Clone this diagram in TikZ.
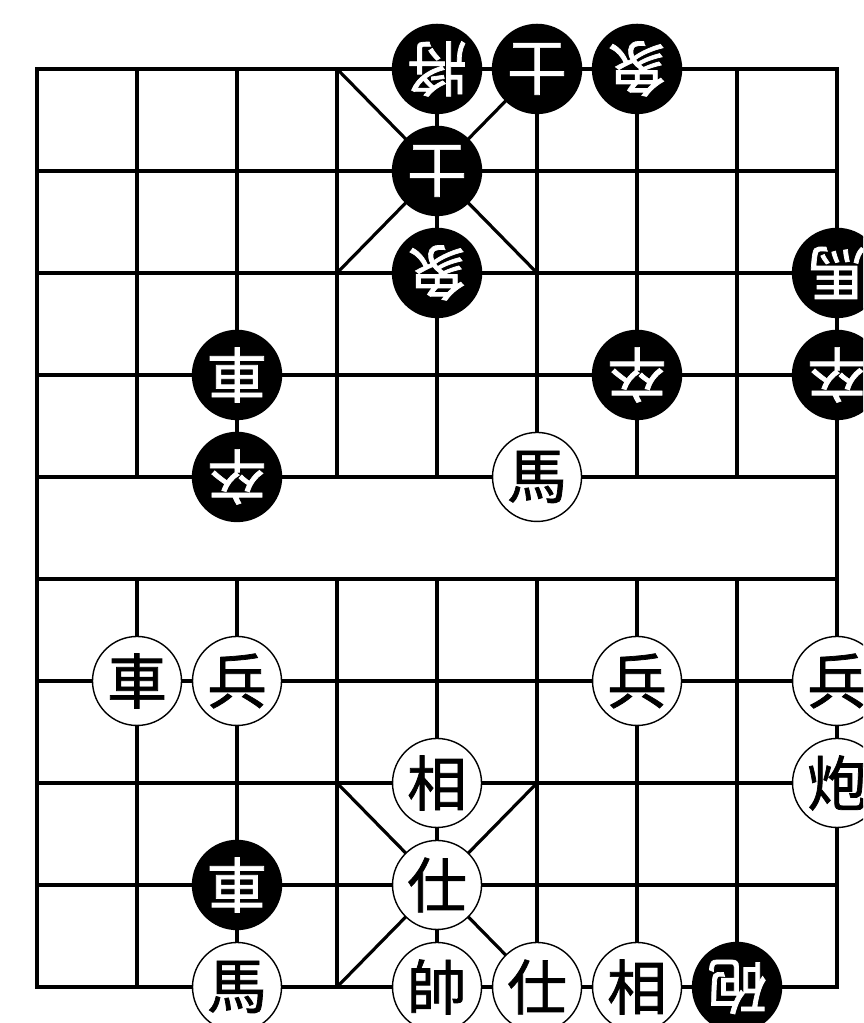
\documentclass[tikz,border=0pt]{standalone}
\usepackage{fontspec}
\newfontfamily\cjk[FakeBold=1.2]{Noto Sans CJK TC}

\begin{document}
\begin{tikzpicture}[
x=1cm, y=1.02cm,
boardline/.style={line width=0.9pt},
redpiece/.style={circle, draw, line width=0.4pt, fill=white, minimum size=0.89cm, inner sep=0pt, font=\cjk\fontsize{17}{17}\selectfont},
blackpiece/.style={redpiece, fill=black, text=white, rotate=180}
]
\useasboundingbox (-0.37,-0.353) rectangle (8.26,9.676);
\clip (-0.37,-0.353) rectangle (8.26,9.676);

% board
\draw[boardline] (0,0) rectangle (8,9);
\foreach \r in {1,...,8} \draw[boardline] (0,\r) -- (8,\r);
\foreach \f in {1,...,7} \draw[boardline] (\f,0) -- (\f,4) (\f,5) -- (\f,9);
\draw[boardline] (3,9) -- (5,7) (5,9) -- (3,7);
\draw[boardline] (3,0) -- (5,2) (5,0) -- (3,2);

% black
\node[blackpiece] (b1) at (4,9) {將};
\node[blackpiece] (b2) at (5,9) {士};
\node[blackpiece] (b3) at (6,9) {象};
\node[blackpiece] (b4) at (4,8) {士};
\node[blackpiece] (b5) at (4,7) {象};
\node[blackpiece] (b6) at (8,7) {馬};
\node[blackpiece] (b7) at (2,6) {車};
\node[blackpiece] (b8) at (6,6) {卒};
\node[blackpiece] (b9) at (8,6) {卒};
\node[blackpiece] (b10) at (2,5) {卒};
\node[blackpiece] (b11) at (2,1) {車};
\node[blackpiece] (b12) at (7,0) {砲};

% red
\node[redpiece] (r1) at (5,5) {馬};
\node[redpiece] (r2) at (1,3) {車};
\node[redpiece] (r3) at (2,3) {兵};
\node[redpiece] (r4) at (6,3) {兵};
\node[redpiece] (r5) at (8,3) {兵};
\node[redpiece] (r6) at (4,2) {相};
\node[redpiece] (r7) at (8,2) {炮};
\node[redpiece] (r8) at (4,1) {仕};
\node[redpiece] (r9) at (2,0) {馬};
\node[redpiece] (r10) at (4,0) {帥};
\node[redpiece] (r11) at (5,0) {仕};
\node[redpiece] (r12) at (6,0) {相};
\end{tikzpicture}
\end{document}
